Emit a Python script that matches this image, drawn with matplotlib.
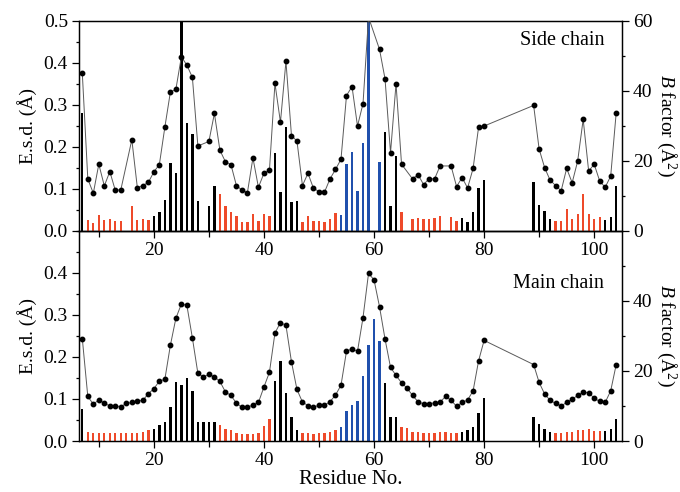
import matplotlib
matplotlib.use("Agg")
import matplotlib.pyplot as plt
from matplotlib.ticker import MultipleLocator, FixedLocator

plt.rcParams['font.family'] = ['Liberation Serif', 'DejaVu Serif']
plt.rcParams['mathtext.fontset'] = 'custom'
plt.rcParams['mathtext.rm'] = 'Liberation Serif'
plt.rcParams['mathtext.it'] = 'Liberation Serif:italic'

# ---------------- data ----------------
side_res = [7, 8, 9, 10, 11, 12, 13, 14, 16, 17, 18, 19, 20, 21, 22, 23, 24, 25, 26, 27, 28,
            30, 31, 32, 33, 34, 35, 36, 37, 38, 39, 40, 41, 42, 43, 44, 45, 46, 47, 48, 49,
            50, 51, 52, 53, 54, 55, 56, 57, 58, 59, 61, 62, 63, 64, 65, 67, 68, 69, 70, 71,
            72, 74, 75, 76, 77, 78, 79, 80, 89, 90, 91, 92, 93, 94, 95, 96, 97, 98, 99, 100,
            101, 102, 103, 104]
side_esd = [0.281, 0.025, 0.019, 0.038, 0.025, 0.029, 0.024, 0.024, 0.060, 0.025, 0.029, 0.025,
            0.036, 0.044, 0.073, 0.162, 0.138, 0.52, 0.256, 0.231, 0.070,
            0.059, 0.106, 0.087, 0.060, 0.044, 0.035, 0.021, 0.020, 0.039, 0.023, 0.040, 0.035,
            0.184, 0.093, 0.247, 0.068, 0.071, 0.021, 0.035, 0.024,
            0.024, 0.021, 0.029, 0.041, 0.037, 0.160, 0.187, 0.094, 0.210, 0.52, 0.164, 0.234,
            0.059, 0.179, 0.044, 0.029, 0.031, 0.029, 0.029, 0.030,
            0.035, 0.033, 0.024, 0.031, 0.021, 0.044, 0.102, 0.121, 0.117, 0.062, 0.047, 0.029,
            0.024, 0.023, 0.052, 0.027, 0.040, 0.087, 0.040, 0.029,
            0.032, 0.025, 0.033, 0.106]
side_B = [45.0, 14.8, 10.7, 19.0, 12.8, 16.9, 11.5, 11.7, 26.0, 12.3, 12.9, 13.8,
          16.8, 18.9, 29.6, 39.6, 40.4, 49.7, 47.3, 43.8, 24.2,
          25.5, 33.5, 23.0, 19.7, 18.9, 12.9, 11.6, 10.9, 20.8, 12.4, 16.4, 17.3,
          42.1, 31.0, 48.4, 27.2, 25.6, 12.9, 16.4, 12.1,
          11.2, 11.0, 14.8, 17.5, 20.4, 38.6, 41.2, 29.9, 36.3, 61.0, 51.8, 43.4,
          22.3, 42.0, 19.0, 14.8, 16.0, 13.2, 14.8, 14.8,
          18.5, 18.5, 12.6, 15.2, 12.2, 17.8, 29.6, 29.9, 35.8, 23.3, 18.0, 14.4,
          12.9, 11.4, 17.8, 13.7, 19.9, 31.8, 17.0, 19.0,
          14.2, 12.4, 15.6, 33.7]

main_res = list(range(7, 81)) + list(range(89, 105))
main_esd = [0.075, 0.021, 0.018, 0.020, 0.020, 0.018, 0.018, 0.019, 0.019, 0.020,
            0.020, 0.022, 0.026, 0.029, 0.037, 0.044, 0.082, 0.140, 0.133, 0.150,
            0.120, 0.044, 0.044, 0.044, 0.045, 0.037, 0.029, 0.025, 0.020, 0.017,
            0.017, 0.017, 0.019, 0.035, 0.052, 0.143, 0.191, 0.115, 0.056, 0.026,
            0.020, 0.018, 0.017, 0.018, 0.020, 0.021, 0.027, 0.033, 0.071, 0.086,
            0.094, 0.155, 0.228, 0.290, 0.238, 0.139, 0.058, 0.056, 0.034, 0.030,
            0.021, 0.021, 0.020, 0.020, 0.020, 0.021, 0.021, 0.020, 0.018, 0.021,
            0.025, 0.034, 0.066, 0.102,
            0.056, 0.041, 0.028, 0.022, 0.020, 0.020, 0.022, 0.022, 0.025, 0.026,
            0.028, 0.024, 0.023, 0.024, 0.029, 0.052]
main_B = [29.2, 12.7, 10.5, 11.7, 10.8, 10.0, 10.0, 9.8, 10.7, 11.0,
          11.4, 11.6, 13.5, 14.9, 17.1, 17.6, 27.3, 35.0, 39.1, 38.7,
          29.4, 19.3, 18.3, 19.0, 18.3, 17.0, 14.0, 13.0, 10.8, 9.6,
          9.6, 10.3, 11.0, 15.4, 19.6, 30.8, 33.8, 33.0, 22.6, 14.7,
          11.1, 10.1, 9.7, 10.2, 10.2, 11.2, 13.1, 15.9, 25.6, 26.3,
          25.6, 35.2, 47.8, 46.0, 38.3, 29.1, 21.0, 18.7, 16.6, 15.1,
          13.0, 11.2, 10.6, 10.6, 10.9, 11.1, 12.7, 11.6, 9.9, 11.0,
          11.7, 14.3, 22.9, 28.7,
          21.8, 16.7, 13.4, 11.6, 10.7, 10.0, 11.0, 11.9, 13.0, 13.9,
          13.8, 12.2, 11.3, 11.0, 14.3, 21.8]

# residue groups (bar colours)
black_groups = [(7, 7), (20, 31), (42, 46), (62, 64), (76, 80), (89, 92), (102, 104)]
blue_groups = [(54, 61)]
x_ticks = [20, 40, 60, 80, 100]

BLACK = '#000000'
RED = '#ee4a2a'
BLUE = '#2050ad'


def bar_color(r):
    for a, b in blue_groups:
        if a <= r <= b:
            return BLUE
    for a, b in black_groups:
        if a <= r <= b:
            return BLACK
    return RED


fig = plt.figure(figsize=(6.8, 4.92), dpi=100)
L, R = 79 / 680, 621.7 / 680
top_t, mid, bot = 1 - 20.7 / 492, 1 - 230.7 / 492, 1 - 441 / 492
ax_bot = fig.add_axes([L, bot, R - L, mid - bot])
ax_top = fig.add_axes([L, mid, R - L, top_t - mid])
ax_bot.patch.set_visible(False)
ax_top.patch.set_visible(False)

FS = 14


def draw(ax, res, esd, B, label, label_y, right_ticks):
    ax.bar(res, esd, width=0.42, color=[bar_color(r) for r in res], linewidth=0, zorder=2)
    ax.set_xlim(6.4, 105)
    ax.set_ylim(0, 0.5)
    ax.yaxis.set_major_locator(MultipleLocator(0.1))
    ax.yaxis.set_minor_locator(MultipleLocator(0.05))
    ax.xaxis.set_major_locator(FixedLocator(x_ticks))
    ax.xaxis.set_minor_locator(MultipleLocator(10))
    ax.tick_params(axis='both', which='major', direction='out', length=5, width=0.9,
                   labelsize=FS, pad=3)
    ax.tick_params(axis='both', which='minor', direction='out', length=2.5, width=0.9)
    ax.tick_params(axis='x', which='minor', length=4)
    ax.yaxis.set_major_formatter(matplotlib.ticker.FormatStrFormatter('%.1f'))
    ax.set_ylabel('E.s.d. (Å)', fontsize=FS, labelpad=5)
    for s in ax.spines.values():
        s.set_linewidth(0.9)
    axr = ax.twinx()
    axr.plot(res, B, color='#5a5a5a', linewidth=0.7, marker='o', markersize=3.2,
             markerfacecolor='black', markeredgecolor='black', zorder=3)
    axr.set_ylim(0, 60)
    axr.yaxis.set_major_locator(FixedLocator(right_ticks))
    axr.yaxis.set_minor_locator(FixedLocator([10, 30, 50]))
    axr.tick_params(axis='y', which='major', direction='out', length=5, width=0.9,
                    labelsize=FS, pad=3)
    axr.tick_params(axis='y', which='minor', direction='out', length=2.5, width=0.9)
    axr.set_ylabel('$B$ factor (Å$^2$)', fontsize=FS, rotation=-90, labelpad=19)
    for s in axr.spines.values():
        s.set_linewidth(0.9)
    ax.text(0.968, label_y, label, transform=ax.transAxes, ha='right', va='center',
            fontsize=FS + 0.5)
    return axr


draw(ax_top, side_res, side_esd, side_B, 'Side chain', 0.905, [0, 20, 40, 60])
draw(ax_bot, main_res, main_esd, main_B, 'Main chain', 0.75, [0, 20, 40])
ax_bot.yaxis.set_major_locator(FixedLocator([0.0, 0.1, 0.2, 0.3, 0.4]))
ax_bot.set_xlabel('Residue No.', fontsize=FS + 1, labelpad=1)

fig.savefig('out.png', dpi=100)
